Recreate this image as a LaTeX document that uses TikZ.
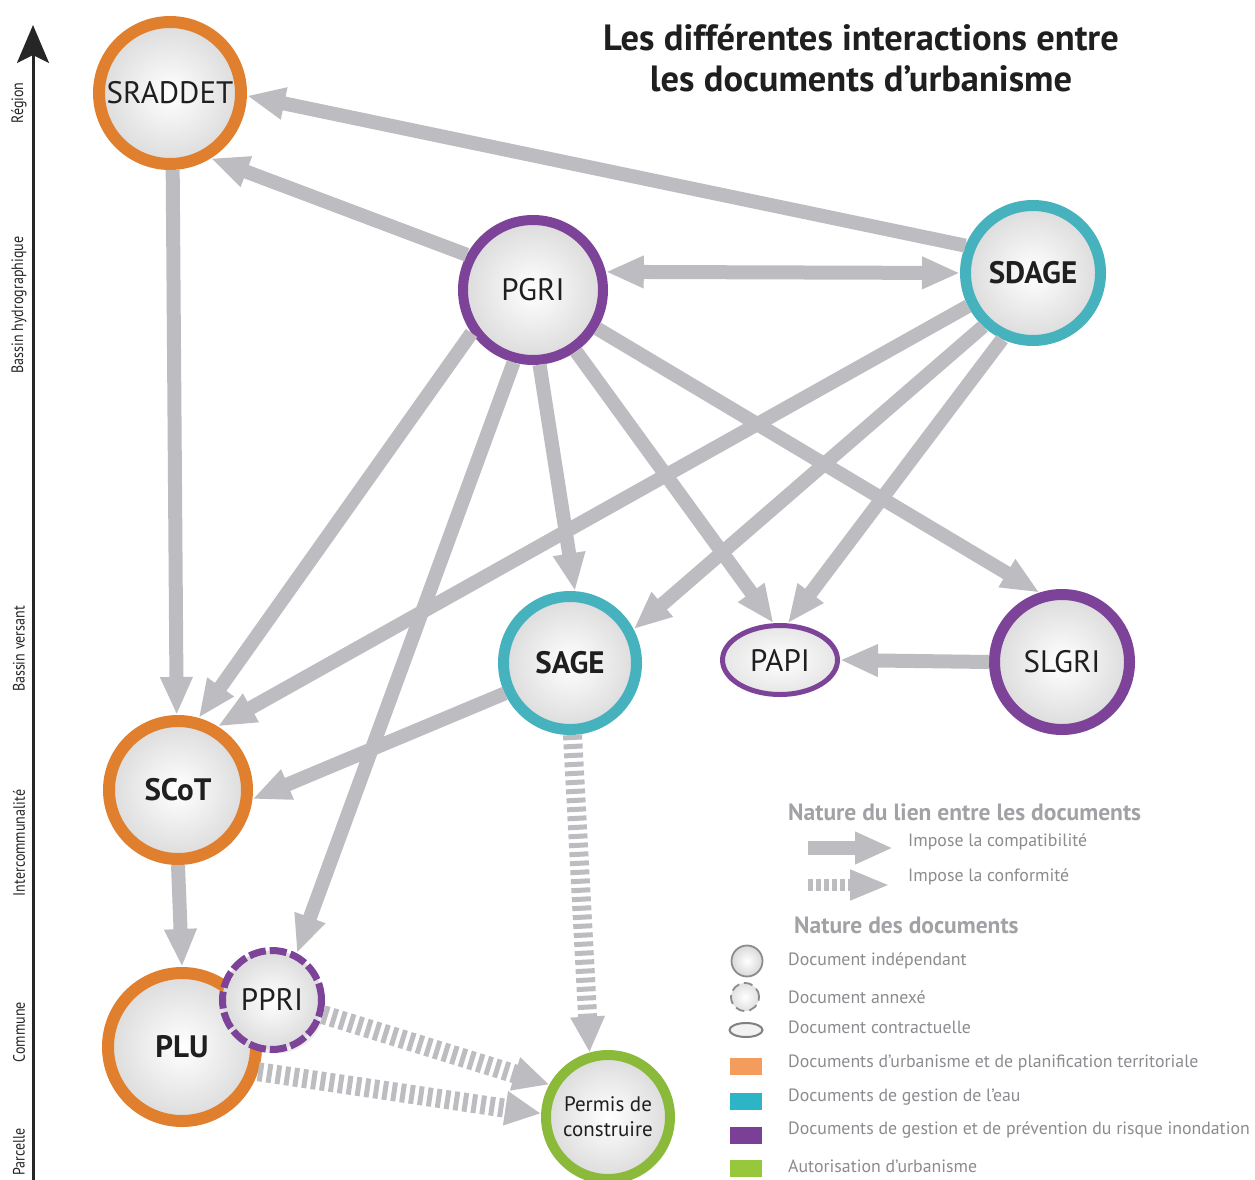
\documentclass[tikz,border=0pt]{standalone}
\usepackage{fontspec}
\setmainfont{PT Sans}
\newfontfamily\axisfont[FakeStretch=0.85]{PT Sans}
\usetikzlibrary{arrows.meta,shapes.geometric,shadows}
\definecolor{orangeR}{HTML}{E07F2E}
\definecolor{tealR}{HTML}{45B2BE}
\definecolor{purpleR}{HTML}{7D4398}
\definecolor{greenR}{HTML}{8BBA3A}
\definecolor{arrowgrey}{HTML}{BDBDC1}
\definecolor{legtext}{HTML}{8C8C90}
\definecolor{leghead}{HTML}{A2A2A6}
\definecolor{lorange}{HTML}{F49C5C}
\definecolor{lteal}{HTML}{2BB5C6}
\definecolor{lpurple}{HTML}{7A3F96}
\definecolor{lgreen}{HTML}{97C83C}
\begin{document}
\begin{tikzpicture}[x=1pt,y=-1pt,
  doc/.style={circle, inner sep=0pt, shade, inner color=white, outer color=black!14,
    text=black!88, drop shadow={opacity=0.15, shadow xshift=4pt, shadow yshift=-4pt}},
  reg/.style={font=\fontsize{31}{33}\selectfont},
  bld/.style={font=\bfseries\fontsize{31}{33}\selectfont},
  comp/.style={draw=arrowgrey, line width=14pt, -{Triangle[width=30pt,length=38pt]}},
  conf/.style={draw=arrowgrey, line width=19pt, dash pattern=on 5pt off 4pt, -{Triangle[width=32pt,length=36pt]}},
  axl/.style={rotate=90, font=\axisfont\fontsize{16.5}{18}\selectfont, text=black!85},
  legt/.style={anchor=west, inner sep=0pt, font=\fontsize{17.8}{19}\selectfont, text=legtext},
  legh/.style={anchor=west, inner sep=0pt, font=\bfseries\fontsize{23.5}{25}\selectfont, text=leghead},
  sq/.style={fill=#1, draw=none}
]
\useasboundingbox[fill=white] (0,0) rectangle (1255,1180);

% title
\node[font=\bfseries\fontsize{36.5}{41}\selectfont, align=center, text=black!88] (title) at (861,58)
  {Les différentes interactions entre\\les documents d’urbanisme};

% axis
\coordinate (axb) at (33,1180);
\coordinate (axt) at (33,25);
\draw[line width=3pt, black!85, -{Stealth[width=32pt,length=38pt,inset=8pt]}] (axb) -- (axt);
\node[axl] (l1) at (19,103) {Région};
\node[axl] (l2) at (19,305) {Bassin hydrographique};
\node[axl] (l3) at (19,649) {Bassin versant};
\node[axl] (l4) at (19,843) {Intercommunalité};
\node[axl] (l5) at (19,1032) {Commune};
\node[axl] (l6) at (19,1152) {Parcelle};

% documents
\node[doc, reg, draw=orangeR, line width=12pt, minimum size=142pt] (sraddet) at (170,93) {SRADDET};
\node[doc, reg, draw=purpleR, line width=10pt, minimum size=140pt] (pgri) at (533,290) {PGRI};
\node[doc, bld, draw=tealR, line width=11pt, minimum size=135pt] (sdage) at (1033,273) {SDAGE};
\node[doc, bld, draw=tealR, line width=11pt, minimum size=133pt] (sage) at (570,663) {SAGE};
\node[ellipse, inner sep=0pt, shade, inner color=white, outer color=black!10, text=black!88, reg,
      draw=purpleR, line width=5pt, minimum width=115pt, minimum height=69pt] (papi) at (780,660) {PAPI};
\node[doc, reg, draw=purpleR, line width=11pt, minimum size=135pt] (slgri) at (1062,662) {SLGRI};
\node[doc, bld, draw=orangeR, line width=12pt, minimum size=138pt] (scot) at (178,790) {SCoT};
\node[doc, bld, draw=orangeR, line width=12pt, minimum size=148pt] (plu) at (182,1047) {PLU};
\node[doc, reg, draw=purpleR, line width=7pt, dash pattern=on 17pt off 4pt, minimum size=99pt] (ppri) at (272,1000) {PPRI};
\node[doc, draw=greenR, line width=10pt, minimum size=124pt, align=center,
      font=\fontsize{21}{25}\selectfont] (permis) at (608,1117) {Permis de\\construire};

% compatibility links
\draw[comp] (sdage.158) -- (sraddet.-2);
\draw[comp] (pgri.152) -- (sraddet.-58);
\draw[comp, {Triangle[width=30pt,length=38pt]}-{Triangle[width=30pt,length=38pt]}] (pgri.14) -- (sdage.180);
\draw[comp] (sraddet.-88) -- (scot.91);
\draw[comp] (pgri.215) -- (scot.74);
\draw[comp] (sdage.207) -- (scot.58);
\draw[comp] (pgri.255) -- (ppri.62);
\draw[comp] (pgri.-85) -- (sage.86);
\draw[comp] (pgri.-55) -- (papi.100);
\draw[comp] (pgri.-31) -- (slgri.108);
\draw[comp] (sdage.227) -- (sage.28);
\draw[comp] (sdage.245) -- (papi.78);
\draw[comp] (slgri.180) -- (papi.0);
\draw[comp] (sage.205) -- (scot.-7);
\draw[comp] (scot.-90) -- (plu.90);

% conformity links
\draw[conf] (sage.-88) -- (permis.106);
\draw[conf] (ppri.-16) -- (permis.151);
\draw[conf] (plu.-18) -- (permis.177);

% legend
\node[legh] (lh1) at (788,812) {Nature du lien entre les documents};
\coordinate (la1s) at (808,848);
\coordinate (la1e) at (893,848);
\draw[comp] (la1s) -- (la1e);
\node[legt] (lt1) at (908,842) {Impose la compatibilité};
\coordinate (la2s) at (808,885);
\coordinate (la2e) at (890,885);
\draw[draw=arrowgrey, line width=12pt, dash pattern=on 5pt off 3pt, -{Triangle[width=28pt,length=40pt]}] (la2s) -- (la2e);
\node[legt] (lt2) at (908,877) {Impose la conformité};

\node[legh] (lh2) at (794,925) {Nature des documents};
\node[circle, draw=black!45, line width=1.8pt, shade, inner color=white, outer color=black!15, minimum size=31pt, inner sep=0pt] (ic1) at (747,961) {};
\node[legt] (lt3) at (788,961) {Document indépendant};
\node[circle, draw=black!45, line width=1.8pt, dash pattern=on 9pt off 5pt, shade, inner color=white, outer color=black!12, minimum size=28pt, inner sep=0pt] (ic2) at (745,997) {};
\node[legt] (lt4) at (788,997) {Document annexé};
\node[ellipse, draw=black!50, line width=2pt, fill=black!5, minimum width=33pt, minimum height=14pt, inner sep=0pt] (ic3) at (746,1030) {};
\node[legt] (lt5) at (788,1027) {Document contractuelle};

\node[sq=lorange, minimum width=32pt, minimum height=17pt, inner sep=0pt] (sq1) at (746,1066) {};
\node[legt] (lt6) at (788,1063) {Documents d'urbanisme et de planification territoriale};
\node[sq=lteal, minimum width=32pt, minimum height=17pt, inner sep=0pt] (sq2) at (746,1101) {};
\node[legt] (lt7) at (788,1097) {Documents de gestion de l'eau};
\node[sq=lpurple, minimum width=32pt, minimum height=17pt, inner sep=0pt] (sq3) at (746,1135) {};
\node[legt] (lt8) at (788,1130) {Documents de gestion et de prévention du risque inondation};
\node[sq=lgreen, minimum width=32pt, minimum height=17pt, inner sep=0pt] (sq4) at (746,1168) {};
\node[legt] (lt9) at (788,1166) {Autorisation d'urbanisme};
\end{tikzpicture}
\end{document}
